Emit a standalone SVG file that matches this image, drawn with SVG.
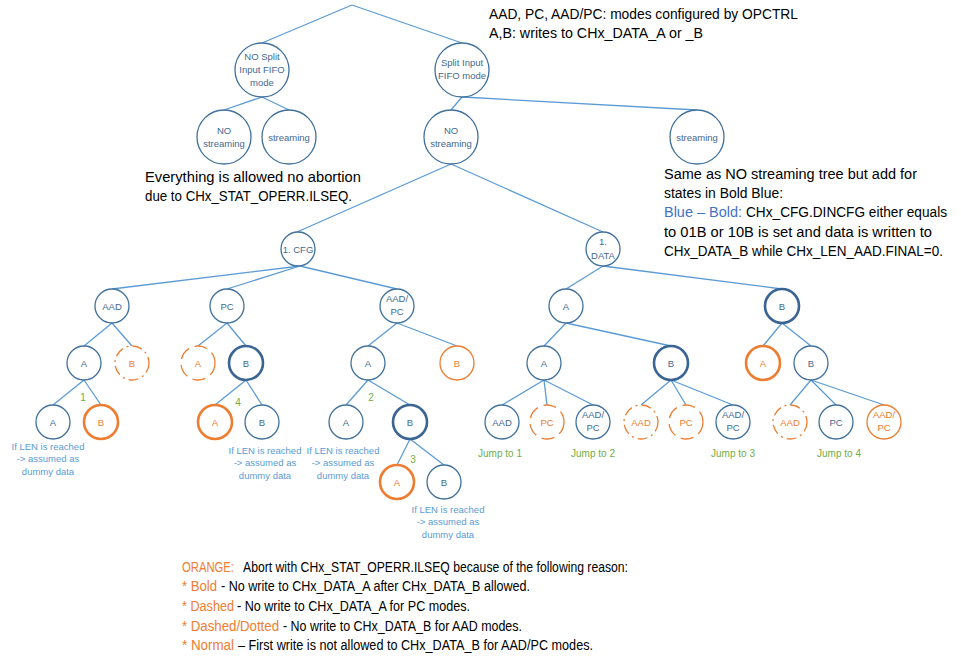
<svg xmlns="http://www.w3.org/2000/svg" width="961" height="667" viewBox="0 0 961 667">
<style>
text{font-family:"Liberation Sans",Arial,sans-serif}
.c{fill:#fff;stroke:#41719c;stroke-width:1.3}
.cb{fill:#fff;stroke:#3a6593;stroke-width:2.6}
.o{fill:#fff;stroke:#ed7d31;stroke-width:1.3}
.ob{fill:#fff;stroke:#ed7d31;stroke-width:2.6}
.od{fill:#fff;stroke:#ed7d31;stroke-width:1.3;stroke-dasharray:13 6}
.odd{fill:#fff;stroke:#ed7d31;stroke-width:1.3;stroke-dasharray:10 4 2 4}
.t{font-size:9.5px;fill:#44698f;text-anchor:middle}
.to{font-size:9.5px;fill:#ed7d31;text-anchor:middle}
.lb{font-size:9.5px;fill:#5b9bd5;text-anchor:middle}
.g{font-size:10px;fill:#70ad47;text-anchor:middle}
.m{font-size:14px;fill:#000}
.or{font-size:14px;fill:#ed7d31}
.bl{font-size:14px;fill:#4472c4}
#edges line{stroke:#5b9bd5;stroke-width:1.3}
</style>
<g id="edges">
<line x1="352" y1="5" x2="262" y2="43"/>
<line x1="352" y1="5" x2="462" y2="43"/>
<line x1="262" y1="97" x2="224" y2="110"/>
<line x1="262" y1="97" x2="289" y2="110"/>
<line x1="462" y1="97" x2="451" y2="110"/>
<line x1="462" y1="97" x2="697" y2="110"/>
<line x1="451" y1="164" x2="297" y2="232"/>
<line x1="451" y1="164" x2="603" y2="232"/>
<line x1="300" y1="266" x2="112" y2="289"/>
<line x1="300" y1="266" x2="227" y2="289"/>
<line x1="300" y1="266" x2="397" y2="289"/>
<line x1="603" y1="266" x2="566" y2="289"/>
<line x1="603" y1="266" x2="782" y2="289"/>
<line x1="112" y1="323" x2="84" y2="346"/>
<line x1="112" y1="323" x2="132" y2="346"/>
<line x1="227" y1="323" x2="198" y2="346"/>
<line x1="227" y1="323" x2="246" y2="346"/>
<line x1="397" y1="323" x2="368" y2="346"/>
<line x1="397" y1="323" x2="457" y2="346"/>
<line x1="566" y1="323" x2="544" y2="346"/>
<line x1="566" y1="323" x2="671" y2="346"/>
<line x1="782" y1="323" x2="763" y2="346"/>
<line x1="782" y1="323" x2="811" y2="346"/>
<line x1="84" y1="380" x2="53" y2="405"/>
<line x1="84" y1="380" x2="101" y2="405"/>
<line x1="246" y1="380" x2="215" y2="405"/>
<line x1="246" y1="380" x2="262" y2="405"/>
<line x1="368" y1="380" x2="346" y2="405"/>
<line x1="368" y1="380" x2="410" y2="405"/>
<line x1="410" y1="439" x2="397" y2="465"/>
<line x1="410" y1="439" x2="444" y2="465"/>
<line x1="544" y1="380" x2="502" y2="405"/>
<line x1="544" y1="380" x2="547" y2="405"/>
<line x1="544" y1="380" x2="593" y2="405"/>
<line x1="671" y1="380" x2="641" y2="405"/>
<line x1="671" y1="380" x2="686" y2="405"/>
<line x1="671" y1="380" x2="733" y2="405"/>
<line x1="811" y1="380" x2="790" y2="405"/>
<line x1="811" y1="380" x2="836" y2="405"/>
<line x1="811" y1="380" x2="884" y2="405"/>
</g>
<g id="n_nosplit"><circle class="c" cx="262" cy="70" r="27"/><text class="t" x="262" y="60">NO Split</text><text class="t" x="262" y="73">Input FIFO</text><text class="t" x="262" y="86">mode</text></g>
<g id="n_split"><circle class="c" cx="462" cy="70" r="27"/><text class="t" x="462" y="66">Split Input</text><text class="t" x="462" y="79">FIFO mode</text></g>
<g id="n_nostream1"><circle class="c" cx="224" cy="137" r="27"/><text class="t" x="224" y="134">NO</text><text class="t" x="224" y="147">streaming</text></g>
<g id="n_stream1"><circle class="c" cx="289" cy="137" r="27"/><text class="t" x="289" y="141">streaming</text></g>
<g id="n_nostream2"><circle class="c" cx="451" cy="137" r="27"/><text class="t" x="451" y="134">NO</text><text class="t" x="451" y="147">streaming</text></g>
<g id="n_stream2"><circle class="c" cx="697" cy="137" r="27"/><text class="t" x="697" y="141">streaming</text></g>
<g id="n_cfg"><circle class="c" cx="298" cy="249" r="17"/><text class="t" x="298" y="252.5">1. CFG</text></g>
<g id="n_data"><circle class="c" cx="603" cy="249" r="17"/><text class="t" x="603" y="245">1.</text><text class="t" x="603" y="259">DATA</text></g>
<g id="n_aad"><circle class="c" cx="112" cy="306" r="17"/><text class="t" x="112" y="309.5">AAD</text></g>
<g id="n_pc"><circle class="c" cx="227" cy="306" r="17"/><text class="t" x="227" y="309.5">PC</text></g>
<g id="n_aadpc"><circle class="c" cx="397" cy="306" r="17"/><text class="t" x="397" y="302">AAD/</text><text class="t" x="397" y="315">PC</text></g>
<g id="n_dA"><circle class="c" cx="566" cy="306" r="17"/><text class="t" x="566" y="309.5">A</text></g>
<g id="n_dB"><circle class="cb" cx="782" cy="306" r="17"/><text class="t" x="782" y="309.5">B</text></g>
<g id="n_aad_A"><circle class="c" cx="84" cy="363" r="17"/><text class="t" x="84" y="366.5">A</text></g>
<g id="n_aad_B"><circle class="odd" cx="132" cy="363" r="17"/><text class="to" x="132" y="366.5">B</text></g>
<g id="n_pc_A"><circle class="od" cx="198" cy="363" r="17"/><text class="to" x="198" y="366.5">A</text></g>
<g id="n_pc_B"><circle class="cb" cx="246" cy="363" r="17"/><text class="t" x="246" y="366.5">B</text></g>
<g id="n_ap_A"><circle class="c" cx="368" cy="363" r="17"/><text class="t" x="368" y="366.5">A</text></g>
<g id="n_ap_B"><circle class="o" cx="457" cy="363" r="17"/><text class="to" x="457" y="366.5">B</text></g>
<g id="n_dA_A"><circle class="c" cx="544" cy="363" r="17"/><text class="t" x="544" y="366.5">A</text></g>
<g id="n_dA_B"><circle class="cb" cx="671" cy="363" r="17"/><text class="t" x="671" y="366.5">B</text></g>
<g id="n_dB_A"><circle class="ob" cx="763" cy="363" r="17"/><text class="to" x="763" y="366.5">A</text></g>
<g id="n_dB_B"><circle class="c" cx="811" cy="363" r="17"/><text class="t" x="811" y="366.5">B</text></g>
<g id="n_aad_A_A"><circle class="c" cx="53" cy="422" r="17"/><text class="t" x="53" y="425.5">A</text></g>
<g id="n_aad_A_B"><circle class="ob" cx="101" cy="422" r="17"/><text class="to" x="101" y="425.5">B</text></g>
<g id="n_pc_B_A"><circle class="ob" cx="215" cy="422" r="17"/><text class="to" x="215" y="425.5">A</text></g>
<g id="n_pc_B_B"><circle class="c" cx="262" cy="422" r="17"/><text class="t" x="262" y="425.5">B</text></g>
<g id="n_ap_A_A"><circle class="c" cx="346" cy="422" r="17"/><text class="t" x="346" y="425.5">A</text></g>
<g id="n_ap_A_B"><circle class="cb" cx="410" cy="422" r="17"/><text class="t" x="410" y="425.5">B</text></g>
<g id="n_ap_A_B_A"><circle class="ob" cx="397" cy="482" r="17"/><text class="to" x="397" y="485.5">A</text></g>
<g id="n_ap_A_B_B"><circle class="c" cx="444" cy="482" r="17"/><text class="t" x="444" y="485.5">B</text></g>
<g id="n_dAA_aad"><circle class="c" cx="502" cy="422" r="17"/><text class="t" x="502" y="425.5">AAD</text></g>
<g id="n_dAA_pc"><circle class="od" cx="547" cy="422" r="17"/><text class="to" x="547" y="425.5">PC</text></g>
<g id="n_dAA_aadpc"><circle class="c" cx="593" cy="422" r="17"/><text class="t" x="593" y="418">AAD/</text><text class="t" x="593" y="431">PC</text></g>
<g id="n_dAB_aad"><circle class="odd" cx="641" cy="422" r="17"/><text class="to" x="641" y="425.5">AAD</text></g>
<g id="n_dAB_pc"><circle class="od" cx="686" cy="422" r="17"/><text class="to" x="686" y="425.5">PC</text></g>
<g id="n_dAB_aadpc"><circle class="c" cx="733" cy="422" r="17"/><text class="t" x="733" y="418">AAD/</text><text class="t" x="733" y="431">PC</text></g>
<g id="n_dBB_aad"><circle class="odd" cx="790" cy="422" r="17"/><text class="to" x="790" y="425.5">AAD</text></g>
<g id="n_dBB_pc"><circle class="c" cx="836" cy="422" r="17"/><text class="t" x="836" y="425.5">PC</text></g>
<g id="n_dBB_aadpc"><circle class="o" cx="884" cy="422" r="17"/><text class="to" x="884" y="418">AAD/</text><text class="to" x="884" y="431">PC</text></g>
<g id="labels">
<text class="g" x="83" y="401">1</text>
<text class="g" x="238" y="406">4</text>
<text class="g" x="371" y="401">2</text>
<text class="g" x="413" y="463">3</text>
<text class="g" x="500" y="456.5">Jump to 1</text>
<text class="g" x="593" y="456.5">Jump to 2</text>
<text class="g" x="733" y="456.5">Jump to 3</text>
<text class="g" x="839" y="456.5">Jump to 4</text>
<text class="lb" x="48" y="449.5">If LEN is reached</text>
<text class="lb" x="48" y="462">-&gt; assumed as</text>
<text class="lb" x="48" y="474.5">dummy data</text>
<text class="lb" x="265" y="453.5">If LEN is reached</text>
<text class="lb" x="265" y="466">-&gt; assumed as</text>
<text class="lb" x="265" y="478.5">dummy data</text>
<text class="lb" x="343" y="453.5">If LEN is reached</text>
<text class="lb" x="343" y="466">-&gt; assumed as</text>
<text class="lb" x="343" y="478.5">dummy data</text>
<text class="lb" x="448" y="512.5">If LEN is reached</text>
<text class="lb" x="448" y="525">-&gt; assumed as</text>
<text class="lb" x="448" y="537.5">dummy data</text>
</g>
<g id="notes">
<text class="m" x="489" y="19" textLength="309" lengthAdjust="spacingAndGlyphs">AAD, PC, AAD/PC: modes configured by OPCTRL</text>
<text class="m" x="489" y="38" textLength="214" lengthAdjust="spacingAndGlyphs">A,B: writes to CHx_DATA_A or _B</text>
<text class="m" x="145" y="182" textLength="216" lengthAdjust="spacingAndGlyphs">Everything is allowed no abortion</text>
<text class="m" x="145" y="201" textLength="207" lengthAdjust="spacingAndGlyphs">due to CHx_STAT_OPERR.ILSEQ.</text>
<text class="m" x="664" y="179" textLength="253" lengthAdjust="spacingAndGlyphs">Same as NO streaming tree but add for</text>
<text class="m" x="664" y="198" textLength="119" lengthAdjust="spacingAndGlyphs">states in Bold Blue:</text>
<text class="bl" x="664" y="217" textLength="78" lengthAdjust="spacingAndGlyphs">Blue – Bold:</text>
<text class="m" x="746" y="217" textLength="201" lengthAdjust="spacingAndGlyphs">CHx_CFG.DINCFG either equals</text>
<text class="m" x="664" y="237" textLength="268" lengthAdjust="spacingAndGlyphs">to 01B or 10B is set and data is written to</text>
<text class="m" x="664" y="256" textLength="279" lengthAdjust="spacingAndGlyphs">CHx_DATA_B while CHx_LEN_AAD.FINAL=0.</text>
<text class="or" x="182" y="572" textLength="52" lengthAdjust="spacingAndGlyphs">ORANGE:</text>
<text class="m" x="243" y="572" textLength="385" lengthAdjust="spacingAndGlyphs">Abort with CHx_STAT_OPERR.ILSEQ because of the following reason:</text>
<text class="or" x="182" y="591" textLength="35" lengthAdjust="spacingAndGlyphs">* Bold</text>
<text class="m" x="221" y="591" textLength="309" lengthAdjust="spacingAndGlyphs">- No write to CHx_DATA_A after CHx_DATA_B allowed.</text>
<text class="or" x="182" y="611" textLength="52" lengthAdjust="spacingAndGlyphs">* Dashed</text>
<text class="m" x="237" y="611" textLength="233" lengthAdjust="spacingAndGlyphs">- No write to CHx_DATA_A for PC modes.</text>
<text class="or" x="182" y="631" textLength="97" lengthAdjust="spacingAndGlyphs">* Dashed/Dotted</text>
<text class="m" x="283" y="631" textLength="239" lengthAdjust="spacingAndGlyphs">- No write to CHx_DATA_B for AAD modes.</text>
<text class="or" x="182" y="650" textLength="52" lengthAdjust="spacingAndGlyphs">* Normal</text>
<text class="m" x="238" y="650" textLength="355" lengthAdjust="spacingAndGlyphs">– First write is not allowed to CHx_DATA_B for AAD/PC modes.</text>
</g>
</svg>
